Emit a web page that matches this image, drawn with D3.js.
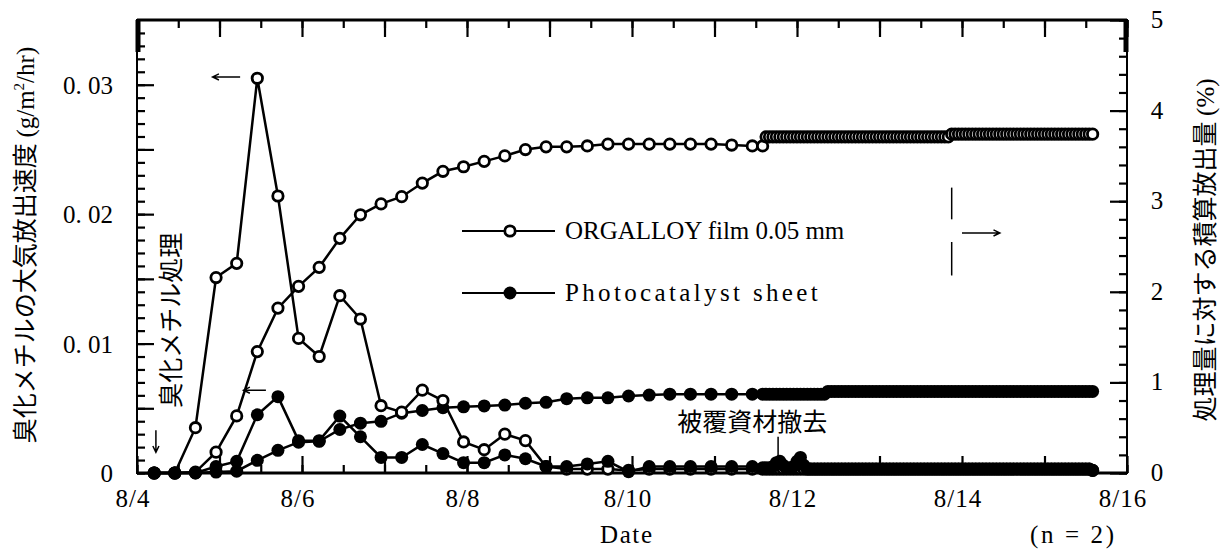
<!DOCTYPE html>
<html>
<head>
<meta charset="utf-8">
<script src="https://cdn.jsdelivr.net/npm/d3@7"></script>
<style>
  body { margin: 0; background: #fff; }
  svg { display: block; }
  .serif { font-family: "Liberation Serif", "DejaVu Serif", serif; }
  .jp { font-family: "Noto Sans CJK JP", sans-serif; }
</style>
</head>
<body>
<div id="chart"></div>
<script>
// sampling times, hours from 8/4 00:00
var sparseHours = [5,11,17,23,29,35,41,47,53,59,65,71,77,83,89,95,101,107,113,119,125,131,137,143,149,155,161,167,173,179];
var denseHours = [
  182,183,184,185,186,187,188,189,190,191,
  192,193,194,195,196,197,198,199,200,201,
  202,203,204,205,206,207,208,209,210,211,
  212,213,214,215,216,217,218,219,220,221,
  222,223,224,225,226,227,228,229,230,231,
  232,233,234,235,236,237,238,239,240,241,
  242,243,244,245,246,247,248,249,250,251,
  252,253,254,255,256,257,258,259,260,261,
  262,263,264,265,266,267,268,269,270,271,
  272,273,274,275,276,277,278];

// emission rate (g/m2/hr), left axis
var orgalloyRate = [0,0,0.0035,0.0151,0.0162,0.0305,0.0214,0.0104,0.0090,0.0137,0.0119,0.0052,0.0047,0.0064,0.0056,0.0024,0.0018,0.0030,0.0025,0.0005,0.0003,0.0003,0.0003,0.0002,0.0003,0.0003,0.0003,0.0003,0.0003,0.0003,
  0.0003,0.0003,0.0003,0.0003,0.0003,0.0003,0.0003,0.0003,0.0003,0.0003,
  0.0003,0.0003,0.0003,0.0003,0.0003,0.0003,0.0003,0.0003,0.0003,0.0003,
  0.0003,0.0003,0.0003,0.0003,0.0003,0.0003,0.0003,0.0003,0.0003,0.0003,
  0.0003,0.0003,0.0003,0.0003,0.0003,0.0003,0.0003,0.0003,0.0003,0.0003,
  0.0003,0.0003,0.0003,0.0003,0.0003,0.0003,0.0003,0.0003,0.0003,0.0003,
  0.0003,0.0003,0.0003,0.0003,0.0003,0.0003,0.0003,0.0003,0.0003,0.0003,
  0.0003,0.0003,0.0003,0.0003,0.0003,0.0003,0.0003,0.0003,0.0003,0.0003,
  0.0003,0.0003,0.0003,0.0003,0.0003,0.0003,0.0003,0.0003,0.0003,0.0003,
  0.0003,0.0003,0.0003,0.0003,0.0003,0.0003,0.0003,0.0003,0.0003,0.0003,
  0.0003,0.0003,0.0003,0.0003,0.0003,0.0003,0.0002];
var photoRate = [0,0,0,0.0005,0.0009,0.0045,0.0059,0.0025,0.0025,0.0044,0.0028,0.0012,0.0012,0.0022,0.0015,0.0008,0.0008,0.0014,0.0011,0.0005,0.0005,0.0007,0.0009,0.0001,0.0005,0.0005,0.0005,0.0005,0.0005,0.0005,
  0.0004,0.0004,0.0004,0.0005,0.0008,0.0009,0.0006,0.0004,0.0004,0.0005,
  0.0009,0.0012,0.0006,0.0003,0.0003,0.0003,0.0003,0.0003,0.0003,0.0003,
  0.0003,0.0003,0.0003,0.0003,0.0003,0.0003,0.0003,0.0003,0.0003,0.0003,
  0.0003,0.0003,0.0003,0.0003,0.0003,0.0003,0.0003,0.0003,0.0003,0.0003,
  0.0003,0.0003,0.0003,0.0003,0.0003,0.0003,0.0003,0.0003,0.0003,0.0003,
  0.0003,0.0003,0.0003,0.0003,0.0003,0.0003,0.0003,0.0003,0.0003,0.0003,
  0.0003,0.0003,0.0003,0.0003,0.0003,0.0003,0.0003,0.0003,0.0003,0.0003,
  0.0003,0.0003,0.0003,0.0003,0.0003,0.0003,0.0003,0.0003,0.0003,0.0003,
  0.0003,0.0003,0.0003,0.0003,0.0003,0.0003,0.0003,0.0003,0.0003,0.0003,
  0.0003,0.0003,0.0003,0.0003,0.0003,0.0003,0.0002];

// cumulative emission (% of applied), right axis
var orgalloyCum = [0,0,0.01,0.23,0.63,1.34,1.82,2.06,2.27,2.59,2.85,2.97,3.05,3.20,3.33,3.38,3.44,3.50,3.57,3.60,3.60,3.61,3.63,3.63,3.63,3.63,3.63,3.63,3.62,3.61,
  3.61,3.71,3.71,3.71,3.71,3.71,3.71,3.71,3.71,3.71,
  3.71,3.71,3.71,3.71,3.71,3.71,3.71,3.71,3.71,3.71,
  3.71,3.71,3.71,3.71,3.71,3.71,3.71,3.71,3.71,3.71,
  3.71,3.71,3.71,3.71,3.71,3.71,3.71,3.71,3.71,3.71,
  3.71,3.71,3.71,3.71,3.71,3.71,3.71,3.71,3.71,3.71,
  3.71,3.71,3.71,3.71,3.71,3.74,3.74,3.74,3.74,3.74,
  3.74,3.74,3.74,3.74,3.74,3.74,3.74,3.74,3.74,3.74,
  3.74,3.74,3.74,3.74,3.74,3.74,3.74,3.74,3.74,3.74,
  3.74,3.74,3.74,3.74,3.74,3.74,3.74,3.74,3.74,3.74,
  3.74,3.74,3.74,3.74,3.74,3.74,3.74];
var photoCum = [0,0,0,0.01,0.02,0.14,0.25,0.34,0.35,0.48,0.55,0.57,0.66,0.69,0.72,0.73,0.74,0.75,0.77,0.78,0.82,0.83,0.83,0.85,0.86,0.87,0.87,0.87,0.87,0.87,
  0.87,0.87,0.87,0.87,0.87,0.87,0.87,0.87,0.87,0.87,
  0.87,0.87,0.87,0.87,0.87,0.87,0.87,0.87,0.87,0.90,
  0.90,0.90,0.90,0.90,0.90,0.90,0.90,0.90,0.90,0.90,
  0.90,0.90,0.90,0.90,0.90,0.90,0.90,0.90,0.90,0.90,
  0.90,0.90,0.90,0.90,0.90,0.90,0.90,0.90,0.90,0.90,
  0.90,0.90,0.90,0.90,0.90,0.90,0.90,0.90,0.90,0.90,
  0.90,0.90,0.90,0.90,0.90,0.90,0.90,0.90,0.90,0.90,
  0.90,0.90,0.90,0.90,0.90,0.90,0.90,0.90,0.90,0.90,
  0.90,0.90,0.90,0.90,0.90,0.90,0.90,0.90,0.90,0.90,
  0.90,0.90,0.90,0.90,0.90,0.90,0.90];

var dateTicks = [0,48,96,144,192,240,288];
var dateLabels = ["8/4","8/6","8/8","8/10","8/12","8/14","8/16"];
var leftTicks = [0,0.01,0.02,0.03];
var leftLabels = ["0","0. 01","0. 02","0. 03"];
var rightTicks = [0,1,2,3,4,5];
var seriesNames = ["ORGALLOY film 0.05 mm","Photocatalyst sheet"];

var hours = sparseHours.concat(denseHours);

var width = 1227, height = 550;
var margin = {top: 20, right: 100, bottom: 77, left: 137};
var plotW = width - margin.left - margin.right;
var plotH = height - margin.top - margin.bottom;

var svg = d3.select("#chart").append("svg")
    .attr("width", width)
    .attr("height", height);

var g = svg.append("g")
    .attr("transform", "translate(" + margin.left + "," + margin.top + ")");

var x = d3.scaleLinear().domain([0, 288]).range([0, plotW]);
var yL = d3.scaleLinear().domain([0, 0.035]).range([plotH, 0]);
var yR = d3.scaleLinear().domain([0, 5]).range([plotH, 0]);

// ticks (all pointing inward)
function ticks(axis, vals, size, tr) {
    var a = g.append("g").attr("transform", tr)
        .call(axis.tickValues(vals).tickSize(size).tickFormat(""));
    a.select(".domain").remove();
    a.selectAll("line").attr("stroke", "#000").attr("stroke-width", 2.2);
}
var halfDays = d3.range(0, 289, 12);
var days = d3.range(0, 289, 24);
ticks(d3.axisBottom(x), halfDays, -8, "translate(0," + plotH + ")");
ticks(d3.axisBottom(x), days, -17, "translate(0," + plotH + ")");
ticks(d3.axisTop(x), halfDays, -8, "translate(0,0)");
ticks(d3.axisTop(x), days, -17, "translate(0,0)");
ticks(d3.axisLeft(yL), d3.range(0, 0.0345, 0.001), -8, "translate(0,0)");
ticks(d3.axisLeft(yL), d3.range(0, 0.0345, 0.005), -17, "translate(0,0)");
ticks(d3.axisRight(yR), d3.range(0, 5.01, 0.2), -8, "translate(" + plotW + ",0)");
ticks(d3.axisRight(yR), rightTicks, -17, "translate(" + plotW + ",0)");

// frame
g.append("rect").attr("width", plotW).attr("height", plotH)
    .attr("fill", "none").attr("stroke", "#000").attr("stroke-width", 2);
g.append("line").attr("x1", 0).attr("x2", plotW).attr("y1", 0).attr("y2", 0)
    .attr("stroke", "#000").attr("stroke-width", 3);
g.append("line").attr("x1", 0).attr("x2", plotW).attr("y1", plotH).attr("y2", plotH)
    .attr("stroke", "#000").attr("stroke-width", 3);
g.append("line").attr("x1", 1).attr("x2", 1).attr("y1", 0).attr("y2", 32)
    .attr("stroke", "#000").attr("stroke-width", 5);
g.append("line").attr("x1", plotW - 1).attr("x2", plotW - 1).attr("y1", 0).attr("y2", 32)
    .attr("stroke", "#000").attr("stroke-width", 5);

// tick labels
g.selectAll(".xl").data(dateTicks).enter().append("text")
    .attr("class", "serif")
    .attr("x", function(d) { return x(d) - 4; })
    .attr("y", plotH + 34)
    .attr("text-anchor", "middle")
    .attr("font-size", 25)
    .attr("letter-spacing", 1)
    .text(function(d, i) { return dateLabels[i]; });

g.selectAll(".yl").data(leftTicks).enter().append("text")
    .attr("class", "serif")
    .attr("x", -24)
    .attr("y", function(d) { return yL(d) + 9; })
    .attr("text-anchor", "end")
    .attr("font-size", 25)
    .text(function(d, i) { return leftLabels[i]; });

g.selectAll(".yr").data(rightTicks).enter().append("text")
    .attr("class", "serif")
    .attr("x", plotW + 30)
    .attr("y", function(d) { return yR(d) + 8; })
    .attr("text-anchor", "middle")
    .attr("font-size", 25)
    .text(function(d) { return d; });

// series
function series(vals, yScale, filled) {
    var pts = hours.map(function(h, i) { return [h, vals[i]]; });
    var line = d3.line()
        .x(function(d) { return x(d[0]); })
        .y(function(d) { return yScale(d[1]); });
    g.append("path").datum(pts)
        .attr("d", line)
        .attr("fill", "none")
        .attr("stroke", "#000")
        .attr("stroke-width", 2.5);
    g.append("g").selectAll("circle").data(pts).enter().append("circle")
        .attr("cx", function(d) { return x(d[0]); })
        .attr("cy", function(d) { return yScale(d[1]); })
        .attr("r", filled ? 6.5 : 5.2)
        .attr("fill", filled ? "#000" : "#fff")
        .attr("stroke", "#000")
        .attr("stroke-width", filled ? 0 : 2.8);
}
series(orgalloyCum, yR, false);
series(photoCum, yR, true);
series(orgalloyRate, yL, false);
series(photoRate, yL, true);

// legend
var legend = g.append("g");
seriesNames.forEach(function(name, i) {
    var ly = 211 + i * 62;
    legend.append("line").attr("x1", 325).attr("x2", 418)
        .attr("y1", ly).attr("y2", ly)
        .attr("stroke", "#000").attr("stroke-width", 2);
    legend.append("circle").attr("cx", 373).attr("cy", ly)
        .attr("r", i === 0 ? 5.2 : 6.5)
        .attr("fill", i === 0 ? "#fff" : "#000")
        .attr("stroke", "#000").attr("stroke-width", i === 0 ? 2.8 : 0);
    legend.append("text").attr("class", "serif")
        .attr("x", 428).attr("y", ly + 8)
        .attr("font-size", 25)
        .attr("textLength", name.length * 13.3)
        .attr("lengthAdjust", "spacing")
        .text(name);
});

// arrows
function arrow(x1, y1, x2, y2) {
    var ang = Math.atan2(y2 - y1, x2 - x1), h = 7;
    g.append("path")
        .attr("d", "M" + x1 + "," + y1 + "L" + x2 + "," + y2 +
            "M" + (x2 - h * Math.cos(ang - 0.45)) + "," + (y2 - h * Math.sin(ang - 0.45)) +
            "L" + x2 + "," + y2 +
            "L" + (x2 - h * Math.cos(ang + 0.45)) + "," + (y2 - h * Math.sin(ang + 0.45)))
        .attr("fill", "none").attr("stroke", "#000").attr("stroke-width", 1.5);
}
arrow(x(30), yL(0.0306), x(22), yL(0.0306));
arrow(x(37.5), yL(0.0064), x(31), yL(0.0064));
arrow(x(5.5), yL(0.0033), x(5.5), yL(0.0016));
arrow(x(186.5), yL(0.0028), x(186.5), yL(0.0006));
arrow(x(240), yR(2.65), x(251), yR(2.65));
g.append("line").attr("x1", x(237)).attr("x2", x(237))
    .attr("y1", yR(3.15)).attr("y2", yR(2.8)).attr("stroke", "#000").attr("stroke-width", 1.5);
g.append("line").attr("x1", x(237)).attr("x2", x(237))
    .attr("y1", yR(2.55)).attr("y2", yR(2.18)).attr("stroke", "#000").attr("stroke-width", 1.5);

// annotations
g.append("text").attr("class", "jp")
    .attr("transform", "translate(" + (x(10) + 9) + "," + yL(0.0118) + ") rotate(-90)")
    .attr("text-anchor", "middle").attr("font-size", 25)
    .text("臭化メチル処理");
g.append("text").attr("class", "jp")
    .attr("x", x(179)).attr("y", yL(0.00325))
    .attr("text-anchor", "middle").attr("font-size", 25)
    .text("被覆資材撤去");

// axis titles
svg.append("text").attr("class", "jp")
    .attr("transform", "translate(34,245) rotate(-90)")
    .attr("text-anchor", "middle").attr("font-size", 25)
    .text("臭化メチルの大気放出速度 ")
    .append("tspan").attr("class", "serif").text("(g/m")
    .select(function() { return this.parentNode; })
    .append("tspan").attr("class", "serif").attr("font-size", 15).attr("dy", -10).text("2")
    .select(function() { return this.parentNode; })
    .append("tspan").attr("class", "serif").attr("dy", 10).text("/hr)");

svg.append("text").attr("class", "jp")
    .attr("transform", "translate(1214,250) rotate(-90)")
    .attr("text-anchor", "middle").attr("font-size", 25)
    .text("処理量に対する積算放出量 ")
    .append("tspan").attr("class", "serif").text("(%)");

svg.append("text").attr("class", "serif")
    .attr("x", 626).attr("y", 543)
    .attr("text-anchor", "middle").attr("font-size", 25)
    .attr("textLength", 52).attr("lengthAdjust", "spacing")
    .text("Date");

svg.append("text").attr("class", "serif")
    .attr("x", 1072).attr("y", 543)
    .attr("text-anchor", "middle").attr("font-size", 25)
    .attr("textLength", 84).attr("lengthAdjust", "spacing")
    .text("(n = 2)");
</script>
</body>
</html>
